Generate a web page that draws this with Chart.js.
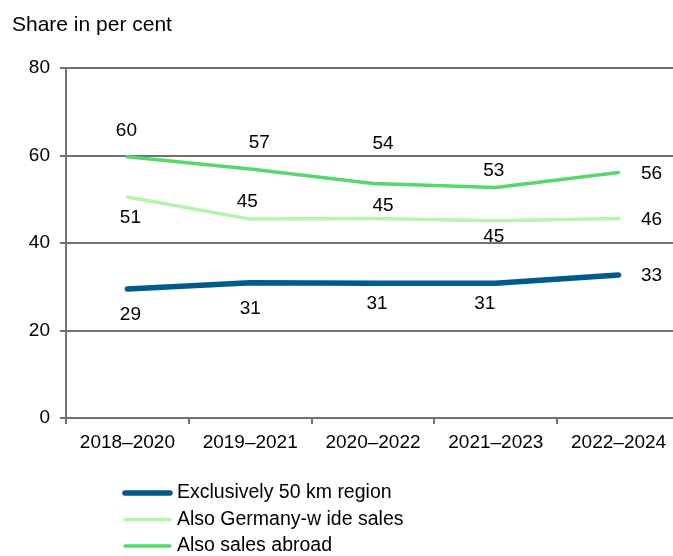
<!DOCTYPE html>
<html>
<head>
<meta charset="utf-8">
<script src="https://cdn.jsdelivr.net/npm/chart.js@4"></script>
<style>
  html, body { margin: 0; padding: 0; background: #fff; overflow: hidden; }
  #chart { display: block; }
</style>
</head>
<body>
<canvas id="chart" width="680" height="556"></canvas>
<script>
// periods on the x axis
const periods = ['2018–2020', '2019–2021', '2020–2022', '2021–2023', '2022–2024']

// shares in per cent
const regionOnly = [29.5, 30.9, 30.8, 30.8, 32.7]
const germanyWide = [50.5, 45.5, 45.6, 45.1, 45.6]
const abroad = [59.7, 56.9, 53.6, 52.7, 56.1]

// printed value labels
const regionOnlyLabels = [29, 31, 31, 31, 33]
const germanyWideLabels = [51, 45, 45, 45, 46]
const abroadLabels = [60, 57, 54, 53, 56]

const yTicks = [0, 20, 40, 60, 80]

const seriesNames = ['Exclusively 50 km region', 'Also Germany-w ide sales', 'Also sales abroad']

// label offsets from the point, [dx, dy]
const regionOnlyOffsets = [[3, 26], [0, 26], [4, 21], [-11, 21], [33, 1]]
const germanyWideOffsets = [[3, 21], [-3, -17], [10, -13], [-2, 16], [33, 1]]
const abroadOffsets = [[-1, -26], [9, -26], [10, -40], [-2, -17], [33, 1]]

const FONT = "'Liberation Sans', Arial, sans-serif"
const GRID = '#6e7277'
const TEXT = '#000000'

const valueLabels = {
    id: 'valueLabels',
    afterDatasetsDraw(chart) {
        let ctx = chart.ctx
        ctx.save()
        ctx.font = '19px ' + FONT
        ctx.fillStyle = TEXT
        ctx.textAlign = 'center'
        ctx.textBaseline = 'middle'
        chart.data.datasets.forEach((ds, i) => {
            let meta = chart.getDatasetMeta(i)
            meta.data.forEach((pt, j) => {
                let off = ds.labelOffsets[j]
                ctx.fillText(String(ds.valueLabels[j]), pt.x + off[0], pt.y + off[1])
            })
        })
        ctx.restore()
    }
}

const titleAndLegend = {
    id: 'titleAndLegend',
    afterDraw(chart) {
        let ctx = chart.ctx
        ctx.save()
        ctx.fillStyle = TEXT
        ctx.font = '21px ' + FONT
        ctx.textAlign = 'left'
        ctx.textBaseline = 'alphabetic'
        ctx.fillText('Share in per cent', 12, 31)

        ctx.font = '19.5px ' + FONT
        ctx.textBaseline = 'middle'
        chart.data.datasets.forEach((ds, i) => {
            let y = 493 + i * 26.5
            ctx.strokeStyle = ds.borderColor
            ctx.lineWidth = ds.borderWidth
            ctx.lineCap = 'round'
            ctx.beginPath()
            ctx.moveTo(125, y)
            ctx.lineTo(170, y)
            ctx.stroke()
            ctx.fillText(ds.label, 177, y)
        })
        ctx.restore()
    }
}

let ctx = document.querySelector('#chart')
new Chart(ctx, {
    type: 'line',
    data: {
        labels: periods,
        datasets: [{
            label: seriesNames[0],
            data: regionOnly,
            valueLabels: regionOnlyLabels,
            labelOffsets: regionOnlyOffsets,
            borderColor: '#015a8b',
            borderWidth: 5.5,
            borderCapStyle: 'round',
            pointRadius: 0,
            tension: 0
        }, {
            label: seriesNames[1],
            data: germanyWide,
            valueLabels: germanyWideLabels,
            labelOffsets: germanyWideOffsets,
            borderColor: '#b5f5aa',
            borderWidth: 3.5,
            borderCapStyle: 'round',
            pointRadius: 0,
            tension: 0
        }, {
            label: seriesNames[2],
            data: abroad,
            valueLabels: abroadLabels,
            labelOffsets: abroadOffsets,
            borderColor: '#58d56d',
            borderWidth: 3.5,
            borderCapStyle: 'round',
            pointRadius: 0,
            tension: 0
        }]
    },
    options: {
        responsive: false,
        animation: false,
        devicePixelRatio: 1,
        layout: {
            padding: { top: 68, right: 0, bottom: 98, left: 0 }
        },
        plugins: {
            legend: { display: false },
            tooltip: { enabled: false }
        },
        scales: {
            x: {
                offset: true,
                grid: {
                    offset: true,
                    drawOnChartArea: false,
                    drawTicks: true,
                    tickLength: 6,
                    color: GRID,
                    lineWidth: 2
                },
                border: { display: true, color: GRID, width: 2 },
                ticks: {
                    color: TEXT,
                    padding: 7,
                    maxRotation: 0,
                    font: { family: FONT, size: 19 }
                },
                afterFit(scale) { scale.height = 40 }
            },
            y: {
                min: yTicks[0],
                max: yTicks[yTicks.length - 1],
                afterBuildTicks(scale) { scale.ticks = yTicks.map(v => ({ value: v })) },
                grid: {
                    color: GRID,
                    lineWidth: 2,
                    tickLength: 6
                },
                border: { display: true, color: GRID, width: 2 },
                ticks: {
                    color: TEXT,
                    padding: 10,
                    font: { family: FONT, size: 19 }
                },
                afterFit(scale) { scale.width = 66 }
            }
        }
    },
    plugins: [valueLabels, titleAndLegend]
})
</script>
</body>
</html>
